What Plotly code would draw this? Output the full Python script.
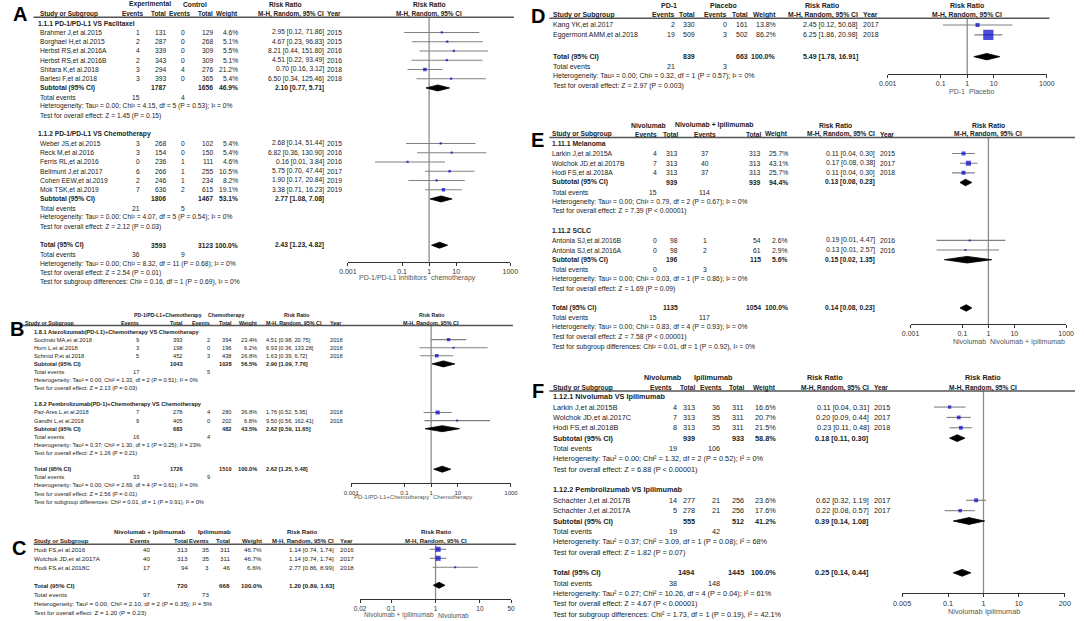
import math
import plotly.graph_objects as go

W, H = 1084, 621
FONT = "Liberation Sans, Arial, sans-serif"
TXT = "#222222"

# ===================== DATA =====================
# ---- Panel A ----
A1_title = "1.1.1 PD-1/PD-L1 VS Paclitaxel"
A1_names = ["Brahmer J,et al.2015", "Borghaei H,et al.2015", "Herbst RS,et al.2016A",
            "Herbst RS,et al.2016B", "Shitara K,et al.2018", "Barlesi F,et al.2018"]
A1_exp_events = [1, 2, 4, 2, 3, 3]
A1_exp_total = [131, 287, 339, 343, 294, 393]
A1_ctl_events = [0, 0, 0, 0, 4, 0]
A1_ctl_total = [129, 268, 309, 309, 276, 365]
A1_weight = [4.6, 5.1, 5.5, 5.1, 21.2, 5.4]
A1_rr = [2.95, 4.67, 8.21, 4.51, 0.70, 6.50]
A1_lo = [0.12, 0.23, 0.44, 0.22, 0.16, 0.34]
A1_hi = [71.86, 96.83, 151.80, 93.49, 3.12, 125.46]
A1_year = [2015, 2015, 2016, 2016, 2018, 2018]
A1_sub = [1787, 1656, 46.9, 2.10, 0.77, 5.71]
A1_events = [15, 4]
A1_het = "Heterogeneity: Tau² = 0.00; Chi² = 4.15, df = 5 (P = 0.53); I² = 0%"
A1_test = "Test for overall effect: Z = 1.45 (P = 0.15)"

A2_title = "1.1.2 PD-1/PD-L1 VS Chemotherapy"
A2_names = ["Weber JS,et al.2015", "Reck M,et al.2016", "Ferris RL,et al.2016",
            "Bellmunt J,et al.2017", "Cohen EEW,et al.2019", "Mok TSK,et al.2019"]
A2_exp_events = [3, 3, 0, 6, 2, 7]
A2_exp_total = [268, 154, 236, 266, 246, 636]
A2_ctl_events = [0, 0, 1, 1, 1, 2]
A2_ctl_total = [102, 150, 111, 255, 234, 615]
A2_weight = [5.4, 5.4, 4.6, 10.5, 8.2, 19.1]
A2_rr = [2.68, 6.82, 0.16, 5.75, 1.90, 3.38]
A2_lo = [0.14, 0.36, 0.01, 0.70, 0.17, 0.71]
A2_hi = [51.44, 130.90, 3.84, 47.44, 20.84, 16.23]
A2_year = [2015, 2016, 2016, 2017, 2019, 2019]
A2_sub = [1806, 1467, 53.1, 2.77, 1.08, 7.08]
A2_events = [21, 5]
A2_het = "Heterogeneity: Tau² = 0.00; Chi² = 4.07, df = 5 (P = 0.54); I² = 0%"
A2_test = "Test for overall effect: Z = 2.12 (P = 0.03)"

A_total = [3593, 3123, 100.0, 2.43, 1.23, 4.82]
A_total_events = [36, 9]
A_total_het = "Heterogeneity: Tau² = 0.00; Chi² = 8.32, df = 11 (P = 0.68); I² = 0%"
A_total_test = "Test for overall effect: Z = 2.54 (P = 0.01)"
A_diff = "Test for subgroup differences: Chi² = 0.16, df = 1 (P = 0.69), I² = 0%"
A_groups_hdr = ["Experimental", "Control"]
A_ticks = [0.001, 0.1, 1, 10, 1000]
A_tick_labels = ["0.001", "0.1", "1", "10", "1000"]
A_favours = ["PD-1/PD-L1 inhibitors", "chemotherapy"]

# ---- Panel B ----
B1_title = "1.8.1 Atezolizumab(PD-L1)+Chemotherapy VS Chemotherapy"
B1_names = ["Socinski MA,et al.2018", "Horn L,et al.2018", "Schmid P,et al.2018"]
B1_exp_events = [9, 3, 5]
B1_exp_total = [393, 198, 452]
B1_ctl_events = [2, 0, 3]
B1_ctl_total = [394, 196, 438]
B1_weight = [23.4, 6.2, 26.8]
B1_rr = [4.51, 6.93, 1.63]
B1_lo = [0.98, 0.36, 0.39]
B1_hi = [20.75, 133.28, 6.72]
B1_year = [2018, 2018, 2018]
B1_sub = [1043, 1028, 56.5, 2.90, 1.09, 7.76]
B1_events = [17, 5]
B1_het = "Heterogeneity: Tau² = 0.00; Chi² = 1.33, df = 2 (P = 0.51); I² = 0%"
B1_test = "Test for overall effect: Z = 2.13 (P = 0.03)"

B2_title = "1.8.2 Pembrolizumab(PD-1)+Chemotherapy VS Chemotherapy"
B2_names = ["Paz-Ares L,et al.2018", "Gandhi L,et al.2018"]
B2_exp_events = [7, 9]
B2_exp_total = [278, 405]
B2_ctl_events = [4, 0]
B2_ctl_total = [280, 202]
B2_weight = [36.8, 6.8]
B2_rr = [1.76, 9.50]
B2_lo = [0.52, 0.56]
B2_hi = [5.95, 162.41]
B2_year = [2018, 2018]
B2_sub = [683, 482, 43.5, 2.62, 0.59, 11.65]
B2_events = [16, 4]
B2_het = "Heterogeneity: Tau² = 0.37; Chi² = 1.30, df = 1 (P = 0.25); I² = 23%"
B2_test = "Test for overall effect: Z = 1.26 (P = 0.21)"

B_total = [1726, 1510, 100.0, 2.62, 1.25, 5.48]
B_total_events = [33, 9]
B_total_het = "Heterogeneity: Tau² = 0.00; Chi² = 2.69, df = 4 (P = 0.61); I² = 0%"
B_total_test = "Test for overall effect: Z = 2.56 (P = 0.01)"
B_diff = "Test for subgroup differences: Chi² = 0.01, df = 1 (P = 0.91), I² = 0%"
B_groups_hdr = ["PD-1/PD-L1+Chemotherapy", "Chemotherapy"]
B_ticks = [0.001, 0.1, 1, 10, 1000]
B_tick_labels = ["0.001", "0.1", "1", "10", "1000"]
B_favours = ["PD-1/PD-L1+Chemotherapy", "Chemotherapy"]

# ---- Panel C ----
C_names = ["Hodi FS,et al.2016", "Wolchok JD,et al.2017A", "Hodi FS,et al.2018C"]
C_exp_events = [40, 40, 17]
C_exp_total = [313, 313, 94]
C_ctl_events = [35, 35, 3]
C_ctl_total = [311, 311, 46]
C_weight = [46.7, 46.7, 6.6]
C_rr = [1.14, 1.14, 2.77]
C_lo = [0.74, 0.74, 0.86]
C_hi = [1.74, 1.74, 8.99]
C_year = [2016, 2017, 2018]
C_total = [720, 668, 100.0, 1.20, 0.89, 1.63]
C_total_events = [97, 73]
C_total_het = "Heterogeneity: Tau² = 0.00; Chi² = 2.10, df = 2 (P = 0.35); I² = 5%"
C_total_test = "Test for overall effect: Z = 1.20 (P = 0.23)"
C_groups_hdr = ["Nivolumab + Ipilimumab", "Ipilimumab"]
C_ticks = [0.02, 0.1, 1, 10, 50]
C_tick_labels = ["0.02", "0.1", "1", "10", "50"]
C_favours = ["Nivolumab + Ipilimumab", "Nivolumab"]

# ---- Panel D ----
D_names = ["Kang YK,et al.2017", "Eggermont AMM,et al.2018"]
D_exp_events = [2, 19]
D_exp_total = [330, 509]
D_ctl_events = [0, 3]
D_ctl_total = [161, 502]
D_weight = [13.8, 86.2]
D_rr = [2.45, 6.25]
D_lo = [0.12, 1.86]
D_hi = [50.68, 20.98]
D_year = [2017, 2018]
D_total = [839, 663, 100.0, 5.49, 1.78, 16.91]
D_total_events = [21, 3]
D_total_het = "Heterogeneity: Tau² = 0.00; Chi² = 0.32, df = 1 (P = 0.57); I² = 0%"
D_total_test = "Test for overall effect: Z = 2.97 (P = 0.003)"
D_groups_hdr = ["PD-1", "Placebo"]
D_ticks = [0.001, 0.1, 1, 10, 1000]
D_tick_labels = ["0.001", "0.1", "1", "10", "1000"]
D_favours = ["PD-1", "Placebo"]

# ---- Panel E ----
E1_title = "1.11.1 Melanoma"
E1_names = ["Larkin J,et al.2015A", "Wolchok JD,et al.2017B", "Hodi FS,et al.2018A"]
E1_exp_events = [4, 7, 4]
E1_exp_total = [313, 313, 313]
E1_ctl_events = [37, 40, 37]
E1_ctl_total = [313, 313, 313]
E1_weight = [25.7, 43.1, 25.7]
E1_rr = [0.11, 0.17, 0.11]
E1_lo = [0.04, 0.08, 0.04]
E1_hi = [0.30, 0.38, 0.30]
E1_year = [2015, 2017, 2018]
E1_sub = [939, 939, 94.4, 0.13, 0.08, 0.23]
E1_events = [15, 114]
E1_het = "Heterogeneity: Tau² = 0.00; Chi² = 0.79, df = 2 (P = 0.67); I² = 0%"
E1_test = "Test for overall effect: Z = 7.39 (P < 0.00001)"

E2_title = "1.11.2 SCLC"
E2_names = ["Antonia SJ,et al.2016B", "Antonia SJ,et al.2016A"]
E2_exp_events = [0, 0]
E2_exp_total = [98, 98]
E2_ctl_events = [1, 2]
E2_ctl_total = [54, 61]
E2_weight = [2.6, 2.9]
E2_rr = [0.19, 0.13]
E2_lo = [0.01, 0.01]
E2_hi = [4.47, 2.57]
E2_year = [2016, 2016]
E2_sub = [196, 115, 5.6, 0.15, 0.02, 1.35]
E2_events = [0, 3]
E2_het = "Heterogeneity: Tau² = 0.00; Chi² = 0.03, df = 1 (P = 0.86); I² = 0%"
E2_test = "Test for overall effect: Z = 1.69 (P = 0.09)"

E_total = [1135, 1054, 100.0, 0.14, 0.08, 0.23]
E_total_events = [15, 117]
E_total_het = "Heterogeneity: Tau² = 0.00; Chi² = 0.83, df = 4 (P = 0.93); I² = 0%"
E_total_test = "Test for overall effect: Z = 7.58 (P < 0.00001)"
E_diff = "Test for subgroup differences: Chi² = 0.01, df = 1 (P = 0.92), I² = 0%"
E_groups_hdr = ["Nivolumab", "Nivolumab + Ipilimumab"]
E_ticks = [0.001, 0.1, 1, 10, 1000]
E_tick_labels = ["0.001", "0.1", "1", "10", "1000"]
E_favours = ["Nivolumab", "Nivolumab + Ipilimumab"]

# ---- Panel F ----
F1_title = "1.12.1 Nivolumab VS Ipilimumab"
F1_names = ["Larkin J,et al.2015B", "Wolchok JD,et al.2017C", "Hodi FS,et al.2018B"]
F1_exp_events = [4, 7, 8]
F1_exp_total = [313, 313, 313]
F1_ctl_events = [36, 35, 35]
F1_ctl_total = [311, 311, 311]
F1_weight = [16.6, 20.7, 21.5]
F1_rr = [0.11, 0.20, 0.23]
F1_lo = [0.04, 0.09, 0.11]
F1_hi = [0.31, 0.44, 0.48]
F1_year = [2015, 2017, 2018]
F1_sub = [939, 933, 58.8, 0.18, 0.11, 0.30]
F1_events = [19, 106]
F1_het = "Heterogeneity: Tau² = 0.00; Chi² = 1.32, df = 2 (P = 0.52); I² = 0%"
F1_test = "Test for overall effect: Z = 6.88 (P < 0.00001)"

F2_title = "1.12.2 Pembrolizumab VS Ipilimumab"
F2_names = ["Schachter J,et al.2017B", "Schachter J,et al.2017A"]
F2_exp_events = [14, 5]
F2_exp_total = [277, 278]
F2_ctl_events = [21, 21]
F2_ctl_total = [256, 256]
F2_weight = [23.6, 17.6]
F2_rr = [0.62, 0.22]
F2_lo = [0.32, 0.08]
F2_hi = [1.19, 0.57]
F2_year = [2017, 2017]
F2_sub = [555, 512, 41.2, 0.39, 0.14, 1.08]
F2_events = [19, 42]
F2_het = "Heterogeneity: Tau² = 0.37; Chi² = 3.09, df = 1 (P = 0.08); I² = 68%"
F2_test = "Test for overall effect: Z = 1.82 (P = 0.07)"

F_total = [1494, 1445, 100.0, 0.25, 0.14, 0.44]
F_total_events = [38, 148]
F_total_het = "Heterogeneity: Tau² = 0.27; Chi² = 10.26, df = 4 (P = 0.04); I² = 61%"
F_total_test = "Test for overall effect: Z = 4.67 (P < 0.00001)"
F_diff = "Test for subgroup differences: Chi² = 1.73, df = 1 (P = 0.19), I² = 42.1%"
F_groups_hdr = ["Nivolumab", "Ipilimumab"]
F_ticks = [0.005, 0.1, 1, 10, 200]
F_tick_labels = ["0.005", "0.1", "1", "10", "200"]
F_favours = ["Nivolumab", "Ipilimumab"]

# ===================== BUILD =====================
annotations = []
shapes = []
traces = []
layout_axes = {}


def txt(x, y, s, anchor="left", size=7.0, bold=False, color=TXT):
    annotations.append(dict(
        x=x / W, y=1 - y / H, xref="paper", yref="paper",
        text=("<b>%s</b>" % s) if bold else s, showarrow=False,
        xanchor=anchor, yanchor="middle", borderpad=0, borderwidth=0,
        font=dict(size=size, color=color, family=FONT)))


def hline(y, x0, x1, color="#555555", width=1.5):
    shapes.append(dict(type="line", xref="paper", yref="paper",
                       x0=x0 / W, x1=x1 / W, y0=1 - y / H, y1=1 - y / H,
                       line=dict(color=color, width=width)))


def grp(title, names, e1, t1, e2, t2, w, rr, lo, hi, yr, sub=None, ev=None, het=None, test=None):
    return dict(title=title, names=names, e1=e1, t1=t1, e2=e2, t2=t2, w=w, rr=rr,
                lo=lo, hi=hi, yr=yr, sub=sub, ev=ev, het=het, test=test)


def rrtxt(r, l, h):
    return "%.2f [%.2f, %.2f]" % (r, l, h)


def panel(P, groups, total, tev, thet, ttest, diff, ghdr, ticks, ticklabels, favours, axnum):
    fs = P["font"]
    C = P["cols"]
    rowy = lambda i: P["row0"] + i * P["h"]

    def col(key, i, s, bold=False):
        x, anc = C[key]
        txt(x, rowy(i), s, anc, fs, bold)

    # letter
    txt(P["letter"][1], P["letter"][2], P["letter"][0], "center", 20, True, "#000000")
    # headers
    gfs = P.get("gfont", fs)
    hfs = P.get("hfont", fs)
    for (s, x) in zip(ghdr, P["ghdr_x"]):
        txt(x, P["y1"], s, "center", gfs, True)
    txt(P["rr_hdr_x"], P["y1"], "Risk Ratio", "center", gfs, True)
    for (s, x, anc) in P["chdr"]:
        txt(x, P["y2"], s, anc, hfs, True)
    hline(P["line_y"], P["line_x"][0], P["line_x"][1])

    # axis pixel mapping
    ax0, ax1 = P["dom"]
    lr0, lr1 = math.log10(P["range"][0]), math.log10(P["range"][1])
    px_one = ax0 + (0 - lr0) / (lr1 - lr0) * (ax1 - ax0)
    txt(px_one, P["y1"], "Risk Ratio", "center", gfs, True)
    txt(px_one, P["y2"], "M-H, Random, 95% CI", "center", hfs, True)

    pts_x, pts_y, pts_s = [], [], []
    ci_x, ci_y = [], []
    diamonds = []
    i = 0.0
    for g in groups:
        if g["title"]:
            txt(C["sub"][0], rowy(i), g["title"], "left", fs, True)
            i += 1
        for k, name in enumerate(g["names"]):
            col("name", i, name)
            col("e1", i, str(g["e1"][k]))
            col("t1", i, str(g["t1"][k]))
            col("e2", i, str(g["e2"][k]))
            col("t2", i, str(g["t2"][k]))
            col("w", i, "%.1f%%" % g["w"][k])
            col("rr", i, rrtxt(g["rr"][k], g["lo"][k], g["hi"][k]))
            col("yr", i, str(g["yr"][k]))
            pts_x.append(g["rr"][k])
            pts_y.append(rowy(i))
            pts_s.append(max(P["minsize"], P["mscale"] * math.sqrt(g["w"][k])))
            ci_x += [g["lo"][k], g["hi"][k], None]
            ci_y += [rowy(i), rowy(i), None]
            i += 1
        if g["sub"] is not None:
            s = g["sub"]
            col("name", i, "Subtotal (95% CI)", True)
            col("t1", i, str(s[0]), True)
            col("t2", i, str(s[1]), True)
            col("w", i, "%.1f%%" % s[2], True)
            col("rr", i, rrtxt(s[3], s[4], s[5]), True)
            diamonds.append((s[3], s[4], s[5], rowy(i)))
            i += 1
            col("name", i, "Total events")
            col("e1", i, str(g["ev"][0]))
            col("e2", i, str(g["ev"][1]))
            i += 1
            col("name", i, g["het"])
            i += 1
            col("name", i, g["test"])
            i += 1
            i += 1
        else:
            i += P["gap"]
    s = total
    col("name", i, "Total (95% CI)", True)
    col("t1", i, str(s[0]), True)
    col("t2", i, str(s[1]), True)
    col("w", i, "%.1f%%" % s[2], True)
    col("rr", i, rrtxt(s[3], s[4], s[5]), True)
    diamonds.append((s[3], s[4], s[5], rowy(i)))
    i += 1
    col("name", i, "Total events")
    col("e1", i, str(tev[0]))
    col("e2", i, str(tev[1]))
    i += 1
    col("name", i, thet)
    i += 1
    col("name", i, ttest)
    i += 1
    if diff:
        col("name", i, diff)

    xa = "x%d" % axnum
    # vertical no-effect line
    traces.append(go.Scatter(x=[1, 1], y=[P["line_y"], P["axis_y"]], xaxis=xa, yaxis="y",
                             mode="lines", line=dict(color="#8c8c8c", width=1.3),
                             hoverinfo="skip", showlegend=False))
    traces.append(go.Scatter(x=ci_x, y=ci_y, xaxis=xa, yaxis="y", mode="lines",
                             line=dict(color="#808080", width=1.1),
                             hoverinfo="skip", showlegend=False))
    traces.append(go.Scatter(x=pts_x, y=pts_y, xaxis=xa, yaxis="y", mode="markers",
                             marker=dict(symbol="square", size=pts_s, color="#0000CD",
                                         line=dict(width=0)),
                             hoverinfo="skip", showlegend=False))
    dh = P["dh"]
    for (r, l, h, yy) in diamonds:
        traces.append(go.Scatter(x=[l, r, h, r, l], y=[yy, yy - dh, yy, yy + dh, yy],
                                 xaxis=xa, yaxis="y", mode="lines", fill="toself",
                                 fillcolor="#000000", line=dict(color="#000000", width=0.8),
                                 hoverinfo="skip", showlegend=False))
    layout_axes["xaxis%d" % axnum] = dict(
        type="log", domain=[ax0 / W, ax1 / W], range=[lr0, lr1], anchor="free",
        position=1 - P["axis_y"] / H, showline=True, linecolor="#333333", linewidth=1,
        ticks="outside", ticklen=3, tickcolor="#333333", tickwidth=1,
        tickvals=ticks, ticktext=ticklabels, showgrid=False, zeroline=False,
        tickfont=dict(size=P["tickfs"], color="#333333", family=FONT), fixedrange=True)
    txt(px_one - 2, P["fav_y"], favours[0], "right", P["tickfs"], False, "#555555")
    txt(px_one + 2, P["fav_y"], favours[1], "left", P["tickfs"], False, "#555555")


# ---- Panel A ----
PA = dict(letter=("A", 11, 14.5), row0=23.2, h=9.25, font=6.7, hfont=6.4, tickfs=7, y1=4, y2=14,
          line_y=17.3, line_x=(25, 513), axis_y=261.7, dom=(344.3, 509.3), range=(0.001, 1000),
          fav_y=277.7, mscale=0.78, minsize=2.2, dh=3.0, gap=1,
          ghdr_x=[143.5, 189], rr_hdr_x=281,
          cols=dict(name=(31, "left"), sub=(29.5, "left"), e1=(133.5, "right"), t1=(159.5, "right"),
                    e2=(179, "right"), t2=(207, "right"), w=(233, "right"), rr=(320, "right"),
                    yr=(323, "left")),
          chdr=[("Study or Subgroup", 31, "left"), ("Events", 136, "right"), ("Total", 159.5, "right"),
                ("Events", 184, "right"), ("Total", 207, "right"), ("Weight", 233, "right"),
                ("M-H, Random, 95% CI", 320, "right"), ("Year", 323, "left")])
panel(PA,
      [grp(A1_title, A1_names, A1_exp_events, A1_exp_total, A1_ctl_events, A1_ctl_total, A1_weight,
           A1_rr, A1_lo, A1_hi, A1_year, A1_sub, A1_events, A1_het, A1_test),
       grp(A2_title, A2_names, A2_exp_events, A2_exp_total, A2_ctl_events, A2_ctl_total, A2_weight,
           A2_rr, A2_lo, A2_hi, A2_year, A2_sub, A2_events, A2_het, A2_test)],
      A_total, A_total_events, A_total_het, A_total_test, A_diff, A_groups_hdr,
      A_ticks, A_tick_labels, A_favours, 2)

# ---- Panel B ----
PB = dict(letter=("B", 8, 329), row0=331.5, h=8.1, font=5.7, gfont=5.2, hfont=5.4, tickfs=6,
          y1=314.5, y2=322.5,
          line_y=325.5, line_x=(14, 512), axis_y=483.3, dom=(347.7, 510), range=(0.001, 1000),
          fav_y=496.7, mscale=0.7, minsize=2.0, dh=3.0, gap=1,
          ghdr_x=[162, 220], rr_hdr_x=292,
          cols=dict(name=(25, "left"), sub=(25, "left"), e1=(132, "right"), t1=(177, "right"),
                    e2=(204, "right"), t2=(227, "right"), w=(252, "right"), rr=(261, "left"),
                    yr=(326, "left")),
          chdr=[("Study or Subgroup", 16, "left"), ("Events", 132, "right"), ("Total", 177, "right"),
                ("Events", 204, "right"), ("Total", 227, "right"), ("Weight", 252, "right"),
                ("M-H, Random, 95% CI", 261, "left"), ("Year", 326, "left")])
panel(PB,
      [grp(B1_title, B1_names, B1_exp_events, B1_exp_total, B1_ctl_events, B1_ctl_total, B1_weight,
           B1_rr, B1_lo, B1_hi, B1_year, B1_sub, B1_events, B1_het, B1_test),
       grp(B2_title, B2_names, B2_exp_events, B2_exp_total, B2_ctl_events, B2_ctl_total, B2_weight,
           B2_rr, B2_lo, B2_hi, B2_year, B2_sub, B2_events, B2_het, B2_test)],
      B_total, B_total_events, B_total_het, B_total_test, B_diff, B_groups_hdr,
      B_ticks, B_tick_labels, B_favours, 3)

# ---- Panel C ----
PC = dict(letter=("C", 10, 548), row0=549.3, h=9.0, font=6.2, hfont=6.0, tickfs=6.5, y1=531.7, y2=540.7,
          line_y=544.3, line_x=(25, 515), axis_y=599.3, dom=(356.7, 510), range=(0.02, 50),
          fav_y=615, mscale=0.75, minsize=2.0, dh=3.0, gap=1,
          ghdr_x=[143, 209], rr_hdr_x=298,
          cols=dict(name=(25, "left"), sub=(25, "left"), e1=(143.3, "right"), t1=(182, "right"),
                    e2=(203, "right"), t2=(225, "right"), w=(256.7, "right"), rr=(330, "right"),
                    yr=(336.7, "left")),
          chdr=[("Study or Subgroup", 25, "left"), ("Events", 143.3, "right"), ("Total", 182, "right"),
                ("Events", 203, "right"), ("Total", 225, "right"), ("Weight", 256.7, "right"),
                ("M-H, Random, 95% CI", 330, "right"), ("Year", 336.7, "left")])
panel(PC,
      [grp(None, C_names, C_exp_events, C_exp_total, C_ctl_events, C_ctl_total, C_weight,
           C_rr, C_lo, C_hi, C_year)],
      C_total, C_total_events, C_total_het, C_total_test, None, C_groups_hdr,
      C_ticks, C_tick_labels, C_favours, 4)

# ---- Panel D ----
PD = dict(letter=("D", 537, 16), row0=25, h=9.9, font=7, hfont=6.8, tickfs=7, y1=5, y2=15,
          line_y=18.3, line_x=(549, 1057), axis_y=74, dom=(892.7, 1054.3), range=(0.001, 1000),
          fav_y=91.7, mscale=1.1, minsize=2.2, dh=3.2, gap=1.2,
          ghdr_x=[671, 726], rr_hdr_x=826,
          cols=dict(name=(552.7, "left"), sub=(552.7, "left"), e1=(676.7, "right"), t1=(696.7, "right"),
                    e2=(729.3, "right"), t2=(750.5, "right"), w=(779.3, "right"), rr=(862.7, "right"),
                    yr=(868, "left")),
          chdr=[("Study or Subgroup", 552.7, "left"), ("Events", 676.7, "right"), ("Total", 696.7, "right"),
                ("Events", 729.3, "right"), ("Total", 750.5, "right"), ("Weight", 779.3, "right"),
                ("M-H, Random, 95% CI", 862.7, "right"), ("Year", 868, "left")])
panel(PD,
      [grp(None, D_names, D_exp_events, D_exp_total, D_ctl_events, D_ctl_total, D_weight,
           D_rr, D_lo, D_hi, D_year)],
      D_total, D_total_events, D_total_het, D_total_test, None, D_groups_hdr,
      D_ticks, D_tick_labels, D_favours, 5)

# ---- Panel E ----
PE = dict(letter=("E", 537, 140), row0=143.9, h=9.65, font=6.8, hfont=6.6, tickfs=7, y1=125, y2=134.5,
          line_y=137.5, line_x=(549, 1083), axis_y=324, dom=(916, 1074), range=(0.001, 1000),
          fav_y=341.7, mscale=0.78, minsize=2.0, dh=3.3, gap=1,
          ghdr_x=[650, 716], rr_hdr_x=840,
          cols=dict(name=(552, "left"), sub=(552, "left"), e1=(658, "right"), t1=(680, "right"),
                    e2=(707, "center"), t2=(764, "right"), w=(791, "right"), rr=(880, "right"),
                    yr=(885, "left")),
          chdr=[("Study or Subgroup", 552, "left"), ("Events", 658, "right"), ("Total", 680, "right"),
                ("Events", 707, "center"), ("Total", 764, "right"), ("Weight", 791, "right"),
                ("M-H, Random, 95% CI", 880, "right"), ("Year", 885, "left")])
panel(PE,
      [grp(E1_title, E1_names, E1_exp_events, E1_exp_total, E1_ctl_events, E1_ctl_total, E1_weight,
           E1_rr, E1_lo, E1_hi, E1_year, E1_sub, E1_events, E1_het, E1_test),
       grp(E2_title, E2_names, E2_exp_events, E2_exp_total, E2_ctl_events, E2_ctl_total, E2_weight,
           E2_rr, E2_lo, E2_hi, E2_year, E2_sub, E2_events, E2_het, E2_test)],
      E_total, E_total_events, E_total_het, E_total_test, E_diff, E_groups_hdr,
      E_ticks, E_tick_labels, E_favours, 6)

# ---- Panel F ----
PF = dict(letter=("F", 537, 391), row0=396.7, h=10.36, font=7.3, hfont=6.6, tickfs=7.3,
          y1=377.7, y2=387.7,
          line_y=391, line_x=(549, 1083), axis_y=593.3, dom=(907.3, 1072.7), range=(0.005, 200),
          fav_y=611, mscale=0.82, minsize=2.0, dh=3.4, gap=1,
          ghdr_x=[664, 716], rr_hdr_x=829,
          cols=dict(name=(552.7, "left"), sub=(552.7, "left"), e1=(679, "right"), t1=(697, "right"),
                    e2=(722, "right"), t2=(747, "right"), w=(779, "right"), rr=(874, "right"),
                    yr=(879, "left")),
          chdr=[("Study or Subgroup", 552.7, "left"), ("Events", 674, "right"), ("Total", 697, "right"),
                ("Events", 724, "right"), ("Total", 747, "right"), ("Weight", 779, "right"),
                ("M-H, Random, 95% CI", 874, "right"), ("Year", 879, "left")])
panel(PF,
      [grp(F1_title, F1_names, F1_exp_events, F1_exp_total, F1_ctl_events, F1_ctl_total, F1_weight,
           F1_rr, F1_lo, F1_hi, F1_year, F1_sub, F1_events, F1_het, F1_test),
       grp(F2_title, F2_names, F2_exp_events, F2_exp_total, F2_ctl_events, F2_ctl_total, F2_weight,
           F2_rr, F2_lo, F2_hi, F2_year, F2_sub, F2_events, F2_het, F2_test)],
      F_total, F_total_events, F_total_het, F_total_test, F_diff, F_groups_hdr,
      F_ticks, F_tick_labels, F_favours, 7)

fig = go.Figure(traces)
fig.update_layout(
    width=W, height=H, autosize=False, margin=dict(l=0, r=0, t=0, b=0),
    paper_bgcolor="#ffffff", plot_bgcolor="rgba(0,0,0,0)", showlegend=False,
    xaxis=dict(visible=False, domain=[0, 1], range=[0, W], fixedrange=True),
    yaxis=dict(visible=False, domain=[0, 1], range=[H, 0], fixedrange=True),
    annotations=annotations, shapes=shapes,
    font=dict(family=FONT, color=TXT),
    **layout_axes)
fig.write_html("out.html", config=dict(displayModeBar=False, staticPlot=True),
               post_script="document.body.style.margin='0px';document.body.style.padding='0px';")
